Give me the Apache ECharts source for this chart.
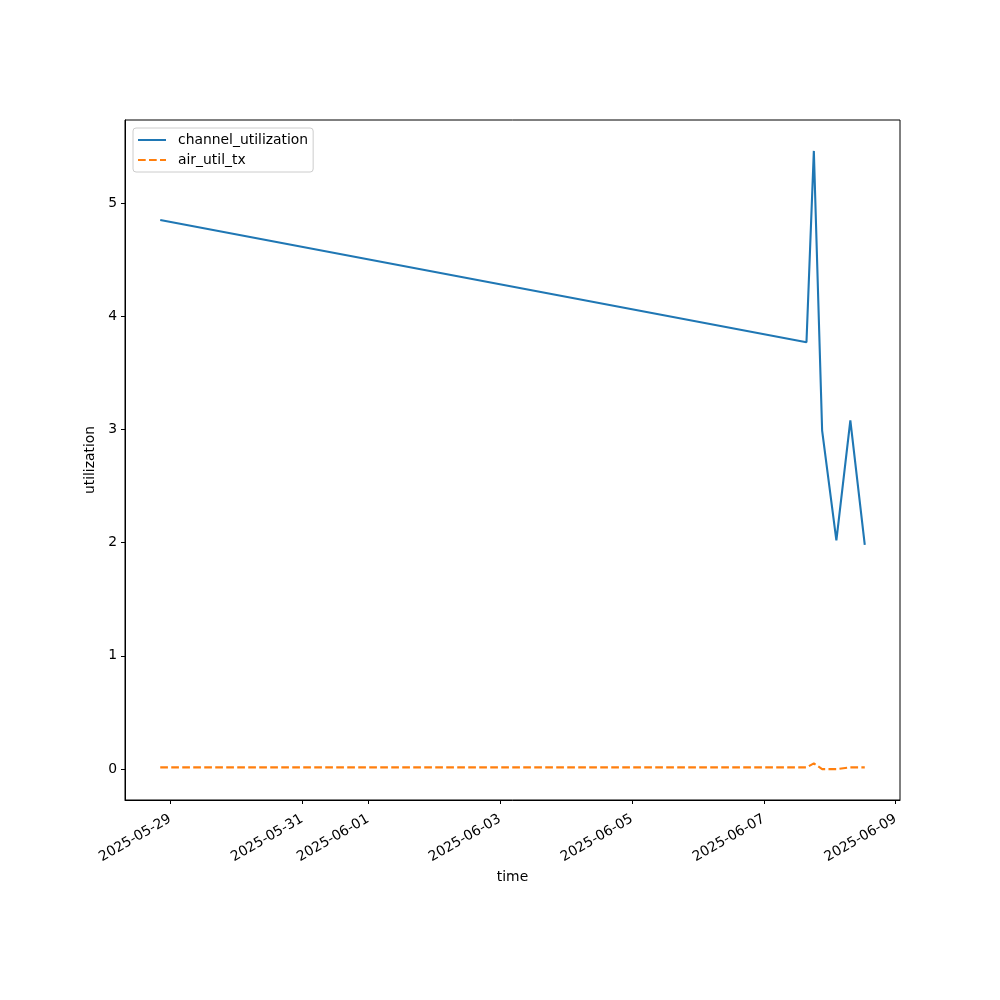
<!DOCTYPE html>
<html><head><meta charset="utf-8">
<script src="https://cdn.jsdelivr.net/npm/echarts@6/dist/echarts.min.js"></script>
<style>html,body{margin:0;padding:0;background:#fff}#c{width:1000px;height:1000px}</style>
</head><body><div id="c"></div>
<script>
const times = ['2025-05-28T20:22:00','2025-06-07T15:32:00','2025-06-07T18:13:00','2025-06-07T21:14:00','2025-06-08T02:25:00','2025-06-08T07:30:00','2025-06-08T12:45:00'];
const channelUtilization = [4.85, 3.77, 5.46, 2.99, 2.02, 3.08, 1.98];
const airUtilTx = [0.015, 0.015, 0.05, 0.0, 0.0, 0.015, 0.015];
const xTickLabels = ['2025-05-29','2025-05-31','2025-06-01','2025-06-03','2025-06-05','2025-06-07','2025-06-09'];
const yTicks = [0, 1, 2, 3, 4, 5];

const toMs = s => Date.parse(s + 'Z');
const tms = times.map(toMs);
const xTickMs = xTickLabels.map(d => toMs(d + 'T00:00:00'));
const span = tms[tms.length-1] - tms[0];
const xMin = tms[0] - span*0.05, xMax = tms[tms.length-1] + span*0.05;
const allY = channelUtilization.concat(airUtilTx);
const yLo = Math.min(...allY), yHi = Math.max(...allY);
const yMin = yLo - (yHi-yLo)*0.05, yMax = yHi + (yHi-yLo)*0.05;
const fmt = v => { const d = new Date(v); return d.toISOString().slice(0,10); };
const FONT = 'DejaVu Sans';

const chart = echarts.init(document.getElementById('c'), null, {renderer:'canvas'});
chart.setOption({
  animation:false,
  backgroundColor:'#fff',
  textStyle:{fontFamily:FONT},
  grid:{left:125, right:100, top:120, bottom:200, show:true, borderColor:'#000', borderWidth:1, backgroundColor:'transparent'},
  legend:{
    orient:'vertical', left:133, top:128, padding:[5,5,5,4], itemGap:6,
    itemWidth:28, itemHeight:14,
    borderColor:'#ccc', borderWidth:1, borderRadius:3, backgroundColor:'#fff',
    itemStyle:{opacity:0},
    textStyle:{fontFamily:FONT, fontSize:13.9, color:'#000', padding:[0,0,0,7]},
    data:['channel_utilization','air_util_tx']
  },
  xAxis:{
    type:'value', min:xMin, max:xMax, name:'time', nameLocation:'middle', nameGap:64,
    nameTextStyle:{fontFamily:FONT, fontSize:13.9, color:'#000'},
    splitLine:{show:false},
    axisLine:{show:true, onZero:false, lineStyle:{color:'#000', width:1}},
    axisTick:{show:true, length:4, customValues:xTickMs, lineStyle:{color:'#000'}},
    axisLabel:{customValues:xTickMs, formatter:fmt, rotate:30, fontFamily:FONT, fontSize:13.9, color:'#000', margin:18}
  },
  yAxis:{
    type:'value', min:yMin, max:yMax, name:'utilization', nameLocation:'middle', nameGap:19,
    nameTextStyle:{fontFamily:FONT, fontSize:13.9, color:'#000'},
    splitLine:{show:false},
    axisLine:{show:true, onZero:false, lineStyle:{color:'#000', width:1}},
    axisTick:{show:true, length:4, customValues:yTicks, lineStyle:{color:'#000'}},
    axisLabel:{customValues:yTicks, fontFamily:FONT, fontSize:13.9, color:'#000', margin:8}
  },
  series:[
    {name:'channel_utilization', type:'line', symbol:'none', data:tms.map((t,i)=>[t, channelUtilization[i]]),
     lineStyle:{color:'#1f77b4', width:2.1}, itemStyle:{color:'#1f77b4'}},
    {name:'air_util_tx', type:'line', symbol:'none', data:tms.map((t,i)=>[t, airUtilTx[i]]),
     lineStyle:{color:'#ff7f0e', width:2.1, type:[7.7,3.3]}, itemStyle:{color:'#ff7f0e'}}
  ]
});
</script></body></html>
